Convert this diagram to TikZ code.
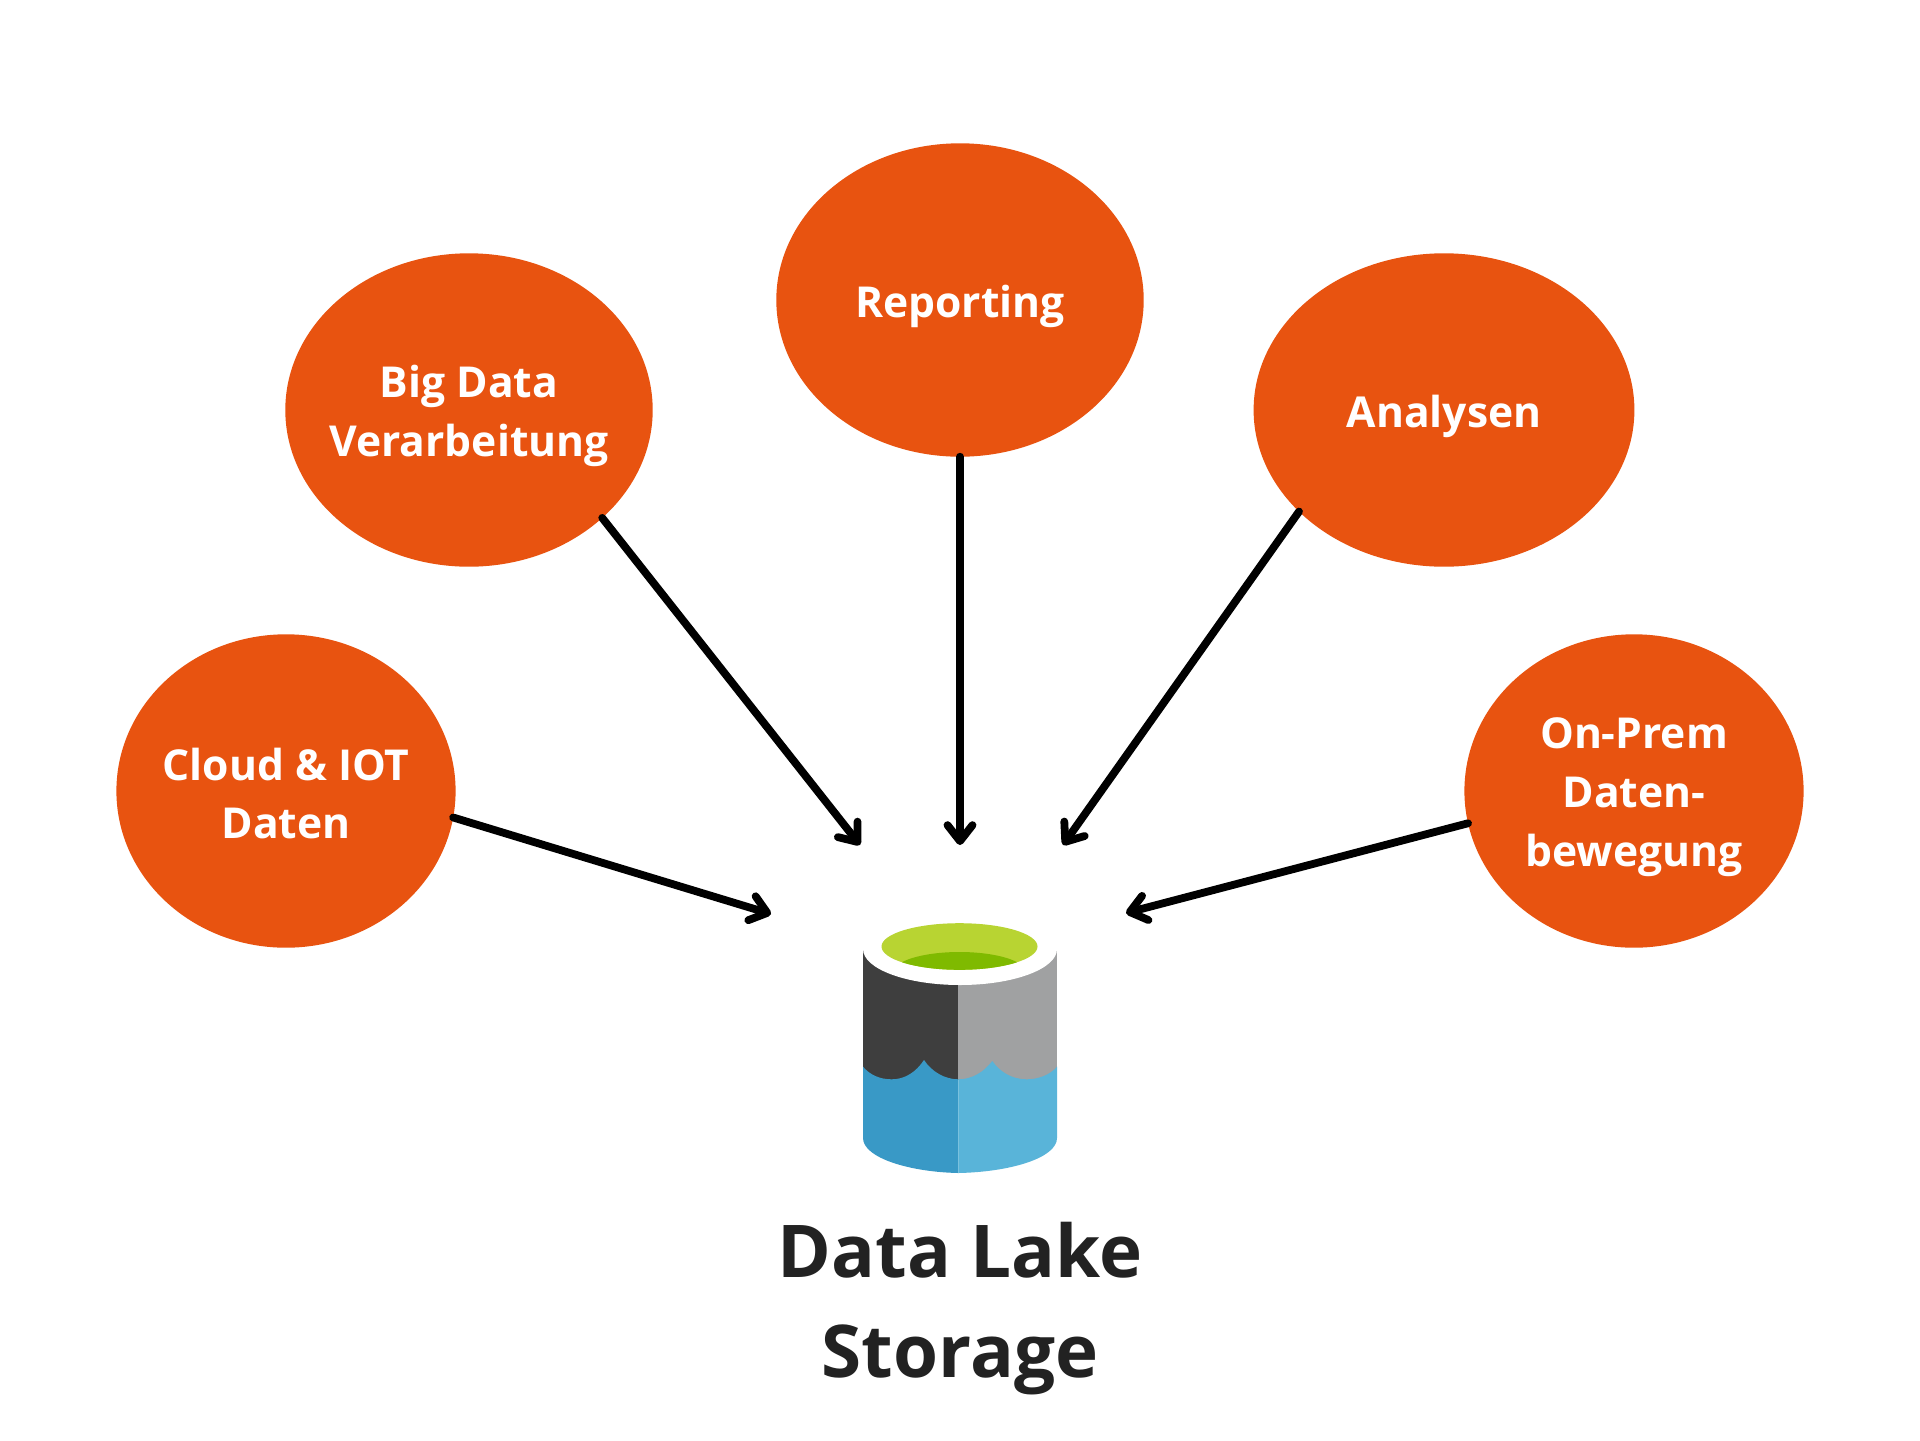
\documentclass[tikz,border=0pt]{standalone}
\usepackage{fontspec}
\setmainfont{Open Sans}
\usetikzlibrary{shapes.geometric,arrows.meta}
\definecolor{orangeC}{HTML}{E85310}
\definecolor{titleC}{HTML}{222222}
\definecolor{sideDark}{RGB}{62,62,62}
\definecolor{sideGray}{RGB}{160,161,162}
\definecolor{waterDark}{RGB}{57,153,198}
\definecolor{waterLight}{RGB}{89,180,217}
\definecolor{greenLight}{RGB}{184,212,50}
\definecolor{greenDark}{RGB}{127,186,0}
\tikzset{
  bubble/.style={ellipse,fill=orangeC,inner sep=0pt,outer sep=0pt,minimum height=156.7pt},
  bubbletext/.style={text=white,inner sep=0pt,align=center,font=\fontsize{21.3}{29.4}\selectfont\bfseries},
  link/.style={draw=black,line width=3.9pt,line cap=round,
    -{Straight Barb[round,length=8pt,width=12.5pt]}},
}
\begin{document}
\begin{tikzpicture}[x=0.5pt,y=-0.5pt]
\useasboundingbox (0,0) rectangle (1920,1440);
\fill[white] (0,0) rectangle (1920,1440);
% bubbles
\node[bubble,minimum width=169.6pt] (cloud) at (286,791) {};
\node[bubble,minimum width=183.7pt] (big) at (469,410) {};
\node[bubble,minimum width=183.7pt] (rep) at (960,300) {};
\node[bubble,minimum width=190.4pt] (ana) at (1444,410) {};
\node[bubble,minimum width=169.6pt] (prem) at (1634,791) {};
\node[bubbletext] (cloudT) at (286,793.5) {Cloud \& IOT\\Daten};
\node[bubbletext] (bigT) at (469,416) {Big Data\\Verarbeitung};
\node[bubbletext] (repT) at (960,306) {Reporting};
\node[bubbletext] (anaT) at (1444,416) {Analysen};
\node[bubbletext] (premT) at (1634,797) {On-Prem\\Daten-\\bewegung};
% free ends
\coordinate (tipCloud) at (771,914);
\coordinate (tipBig) at (860,845);
\coordinate (tipRep) at (960,845);
\coordinate (tipAna) at (1063,845);
\coordinate (tipPrem) at (1126,913);
\draw[link] (cloud.-9.5) -- (tipCloud);
\draw[link] (big.-39.5) -- (tipBig);
\draw[link] (rep.south) -- (tipRep);
\draw[link] (ana.215) -- (tipAna);
\draw[link] (prem.191.5) -- (tipPrem);
% lake icon
\fill[sideDark] (863,950) rectangle (958.3,1080);
\fill[sideGray] (958.3,950) rectangle (1057,1080);
\fill[waterDark] (863,1066.7)
  .. controls (870,1075) and (880,1079.3) .. (891.7,1079.3)
  .. controls (905,1079.3) and (916,1072) .. (924,1060)
  .. controls (932,1072) and (945,1079.3) .. (958.3,1079.3)
  -- (958.3,1173)
  .. controls (910,1172) and (863,1158) .. (863,1138) -- cycle;
\fill[waterLight] (958.3,1079.3)
  .. controls (972,1079.3) and (984,1072) .. (992.3,1061)
  .. controls (1000,1072) and (1012,1079.3) .. (1026.7,1079.3)
  .. controls (1038,1079.3) and (1050,1075) .. (1057,1066.7)
  -- (1057,1138)
  .. controls (1057,1158) and (1010,1172) .. (958.3,1173) -- cycle;
\fill[white] (960,949) ellipse [x radius=97,y radius=36];
\begin{scope}
  \clip (959.5,946.5) ellipse [x radius=78,y radius=23.3];
  \fill[greenLight] (880,920) rectangle (1040,972);
  \fill[greenDark] (959.5,972) ellipse [x radius=66,y radius=20];
\end{scope}
\node[align=center,text=titleC,inner sep=0pt,font=\fontsize{36.4}{50}\selectfont\bfseries] (title) at (960,1309) {Data Lake\\Storage};
\end{tikzpicture}
\end{document}
